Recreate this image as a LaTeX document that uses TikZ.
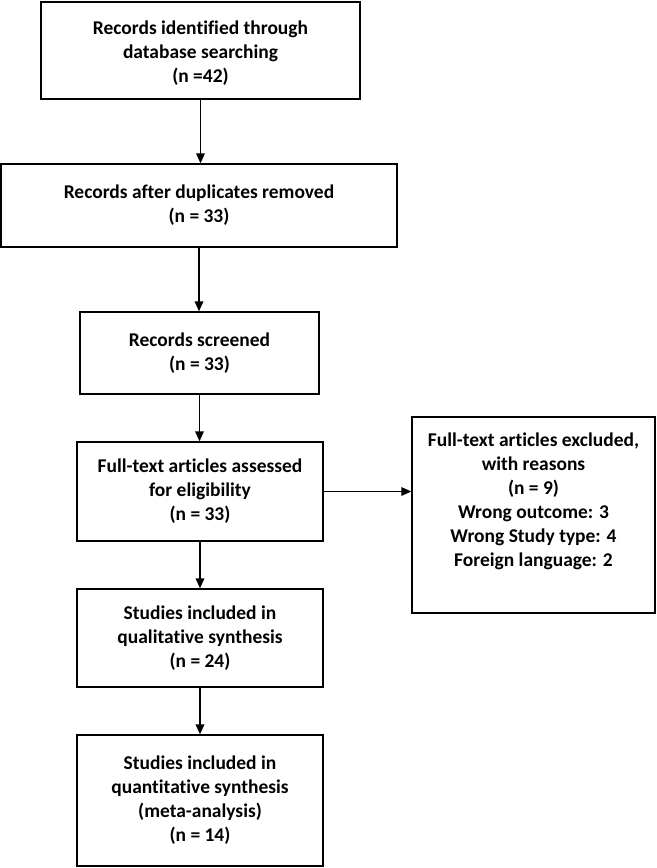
\documentclass[tikz,border=0pt]{standalone}
\usepackage{fontspec}
\setmainfont{Carlito}[Ligatures=NoCommon]
\usepackage{tikz}
\usetikzlibrary{positioning, arrows.meta}

\begin{document}
\begin{tikzpicture}[x=0.75pt, y=-0.75pt,
  flowbox/.style={rectangle, draw=black, line width=1.1pt, fill=white,
                  inner sep=0pt},
  boxtext/.style={align=center, inner sep=0pt, text=black,
                  font=\bfseries\fontsize{14.6}{18}\selectfont},
  flowarrow/.style={-{Triangle[length=7.5pt, width=6.5pt]}, line width=1.1pt}
]
\useasboundingbox (0,0) rectangle (657,868);
% boxes: name / centre x / centre y / width / height / text shift / text
\foreach \n/\x/\y/\w/\h/\dy/\t in {%
  rec/200.5/50.5/319/97/-2/{Records identified through\\database searching\\(n =42)},%
  dedup/199/205.5/396/83/0/{Records after duplicates removed\\(n = 33)},%
  screen/199.5/353/239/82/0/{Records screened\\(n = 33)},%
  elig/200/491.5/246/99/0/{Full-text articles assessed\\for eligibility\\(n = 33)},%
  excl/533.5/515/243/196/10.5/{Full-text articles excluded,\\with reasons\\(n = 9)\\Wrong outcome: 3\\Wrong Study type: 4\\Foreign language: 2},%
  qual/200/638/246/98/0/{Studies included in\\qualitative synthesis\\(n = 24)},%
  quant/200/800.5/246/131/0/{Studies included in\\quantitative synthesis\\(meta-analysis)\\(n = 14)}%
} {
  \node[flowbox, minimum width=\w*0.75pt, minimum height=\h*0.75pt] (\n) at (\x,\y) {};
  \node[boxtext] (\n-txt) at ([yshift=\dy pt]\n.center) {\t};
}
\foreach \a/\b in {rec/dedup, dedup/screen, screen/elig, elig/qual, qual/quant} {
  \draw[flowarrow] (\a.south) -- (\a.south |- \b.north);
}
\draw[flowarrow] (elig.east) -- (elig.east -| excl.west);
\end{tikzpicture}
\end{document}
